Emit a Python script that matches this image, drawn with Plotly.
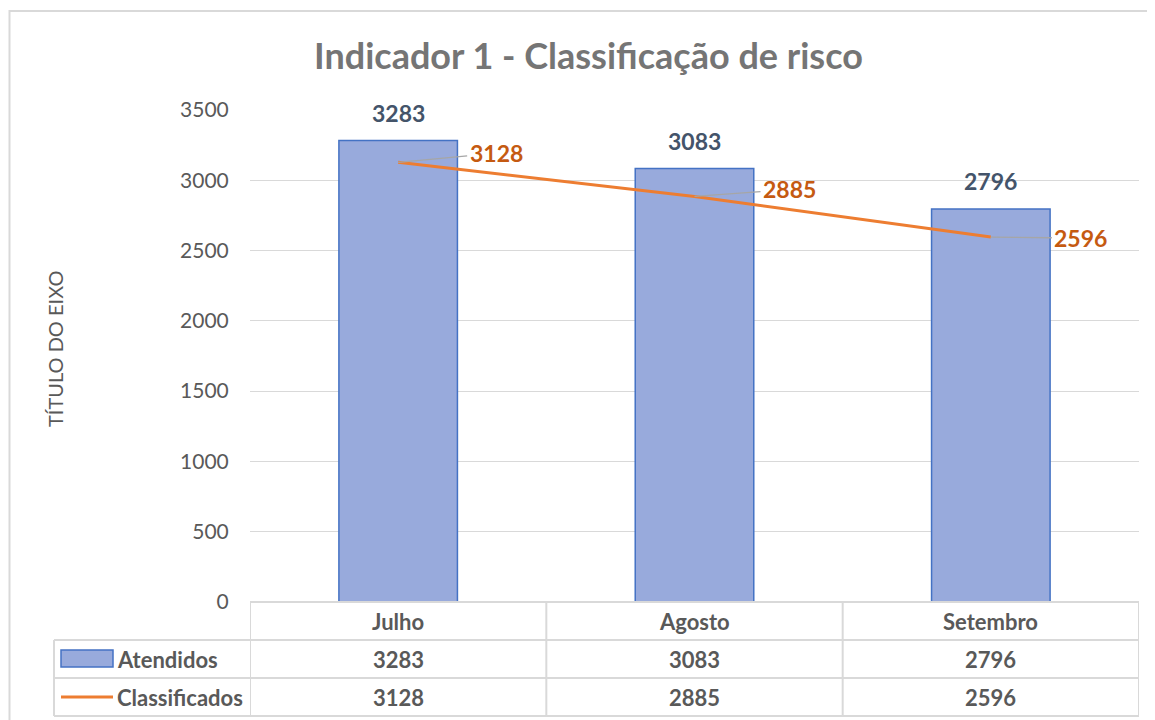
import plotly.graph_objects as go

categories = ["Julho", "Agosto", "Setembro"]
atendidos = [3283, 3083, 2796]
classificados = [3128, 2885, 2596]
series_names = ["Atendidos", "Classificados"]
y_ticks = [0, 500, 1000, 1500, 2000, 2500, 3000, 3500]
title_text = "Indicador 1 - Classificação de risco"
y_title = "TÍTULO DO EIXO"

W, H = 1155, 720
OFF = 8  # page body margin
PL, PR, PT, PB = 250, 1139, 110, 602  # plot area in page pixels
L, R, T, B = PL - OFF, PR - OFF, PT - OFF, PB - OFF


def px(xp):
    return (xp - PL) / (PR - PL)


def py(yp):
    return (PB - yp) / (PB - PT)


FONT = "Lato"
GRAY = "#595959"
GRID = "#d9d9d9"

fig = go.Figure()
fig.add_trace(go.Bar(
    x=categories, y=atendidos, name=series_names[0],
    marker=dict(color="#98aadc", line=dict(color="#4472c4", width=1.5)),
    width=0.4, showlegend=False, hoverinfo="skip",
))
fig.add_trace(go.Scatter(
    x=categories, y=classificados, name=series_names[1], mode="lines",
    line=dict(color="#ed7d31", width=3), showlegend=False, hoverinfo="skip",
))

ann = []
for c, v in zip(categories, atendidos):
    ann.append(dict(x=c, y=v, xref="x", yref="y", text=f"<b>{v}</b>", showarrow=False,
                    xanchor="center", yanchor="bottom", yshift=12,
                    font=dict(family=FONT, size=23, color="#44546a")))
offsets = [(98, -9), (95, -7), (90, 1)]
for c, v, (ax, ay) in zip(categories, classificados, offsets):
    ann.append(dict(x=c, y=v, xref="x", yref="y", text=f"<b>{v}</b>", showarrow=True,
                    arrowhead=0, arrowwidth=1.3, arrowcolor="#a6a6a6", ax=ax, ay=ay,
                    borderpad=2,
                    font=dict(family=FONT, size=23, color="#c55a11")))

ann.append(dict(x=px(588), y=py(55), xref="paper", yref="paper", text=f"<b>{title_text}</b>",
                showarrow=False, xanchor="center", yanchor="middle",
                font=dict(family=FONT, size=36, color="#757575")))
ann.append(dict(x=px(55), y=py(349), xref="paper", yref="paper", text=y_title,
                showarrow=False, textangle=-90, xanchor="center", yanchor="middle",
                font=dict(family=FONT, size=20, color=GRAY)))

rows_y = [py(621), py(659), py(697)]
TF = dict(family=FONT, size=22, color=GRAY)
for c in categories:
    ann.append(dict(x=c, y=rows_y[0], xref="x", yref="paper", text=f"<b>{c}</b>",
                    showarrow=False, xanchor="center", yanchor="middle", font=TF))
for c, v in zip(categories, atendidos):
    ann.append(dict(x=c, y=rows_y[1], xref="x", yref="paper", text=f"<b>{v}</b>",
                    showarrow=False, xanchor="center", yanchor="middle", font=TF))
for c, v in zip(categories, classificados):
    ann.append(dict(x=c, y=rows_y[2], xref="x", yref="paper", text=f"<b>{v}</b>",
                    showarrow=False, xanchor="center", yanchor="middle", font=TF))
for name, yy in zip(series_names, rows_y[1:]):
    ann.append(dict(x=px(115), y=yy, xref="paper", yref="paper", text=f"<b>{name}</b>",
                    showarrow=False, xanchor="left", yanchor="middle", font=TF))

shapes = []
shapes.append(dict(type="rect", xref="paper", yref="paper", x0=px(9.5), x1=px(1175),
                   y0=py(740), y1=py(11), line=dict(color=GRID, width=2)))
line_style = dict(color=GRID, width=2)
n = len(categories)
shapes.append(dict(type="line", xref="x", yref="paper", x0=-0.5, x1=n - 0.5,
                   y0=0, y1=0, line=line_style))
for yp in (640, 678, 716):
    shapes.append(dict(type="line", xref="paper", yref="paper", x0=px(54), x1=1,
                       y0=py(yp), y1=py(yp), line=line_style))
for i in range(n + 1):
    shapes.append(dict(type="line", xref="x", yref="paper", x0=i - 0.5, x1=i - 0.5,
                       y0=0, y1=py(716), line=line_style))
shapes.append(dict(type="line", xref="paper", yref="paper", x0=px(54), x1=px(54),
                   y0=py(640), y1=py(716), line=line_style))
shapes.append(dict(type="rect", xref="paper", yref="paper", x0=px(61), x1=px(113),
                   y0=py(667), y1=py(650), fillcolor="#98aadc",
                   line=dict(color="#4472c4", width=1.5)))
shapes.append(dict(type="line", xref="paper", yref="paper", x0=px(61), x1=px(113),
                   y0=py(697), y1=py(697), line=dict(color="#ed7d31", width=3)))

fig.update_layout(
    width=W, height=H,
    margin=dict(l=L, r=W - R, t=T, b=H - B, autoexpand=False),
    paper_bgcolor="white", plot_bgcolor="white",
    annotations=ann, shapes=shapes,
    xaxis=dict(showticklabels=False, showgrid=False, zeroline=False, showline=False,
               range=[-0.5, n - 0.5], fixedrange=True),
    yaxis=dict(range=[0, 3500], tickvals=y_ticks, showgrid=True, gridcolor=GRID, gridwidth=1,
               zeroline=False, showline=False,
               ticks="outside", ticklen=16, tickcolor="rgba(0,0,0,0)",
               tickfont=dict(family=FONT, size=21, color=GRAY)),
    font=dict(family=FONT),
)

fig.write_html("out.html")
